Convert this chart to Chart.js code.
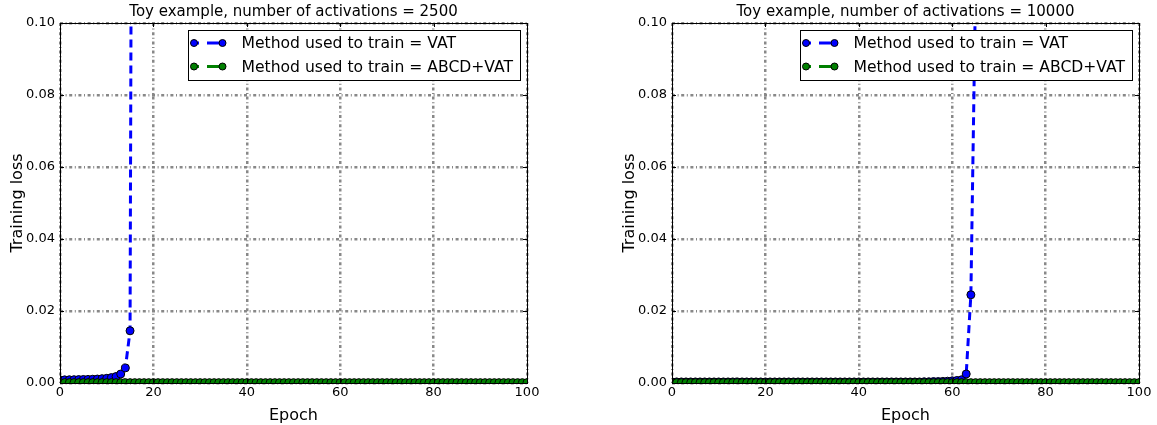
<!DOCTYPE html>
<html><head><meta charset="utf-8">
<script src="https://cdn.jsdelivr.net/npm/chart.js@4.4.0/dist/chart.umd.min.js"></script>
<style>
html,body{margin:0;padding:0;background:#fff;}
#w1{position:absolute;left:0;top:0;width:578px;height:425px;}
#w2{position:absolute;left:612px;top:0;width:545px;height:425px;}
</style></head><body>
<div id="w1"><canvas id="c1"></canvas></div>
<div id="w2"><canvas id="c2"></canvas></div>
<script>
// ---- data ----
const epochs = Array.from({length:101},(_,i)=>i);
const titles = ["Toy example, number of activations = 2500","Toy example, number of activations = 10000"];
const seriesNames = ["Method used to train = VAT","Method used to train = ABCD+VAT"];
const xTicks = [0,20,40,60,80,100];
const yTicks = [0.00,0.02,0.04,0.06,0.08,0.10];
// left panel (2500 activations), VAT diverges after epoch 15
const vat2500 = [0.00085,0.00087,0.0009,0.00092,0.00095,0.00098,0.001,0.00105,0.0011,0.0012,0.0013,0.0015,0.0018,0.0025,0.0042,0.0145,0.44];
const abcd2500 = [0.0001,0.0001,0.0001,0.0001,0.0001,0.0001,0.0001,0.0001,0.0001,0.0001,0.0001,0.0001,0.0001,0.0001,0.0001,0.0001,0.0001,0.0001,0.0001,0.0001,0.0001,0.0001,0.0001,0.0001,0.0001,0.0001,0.0001,0.0001,0.0001,0.0001,0.0001,0.0001,0.0001,0.0001,0.0001,0.0001,0.0001,0.0001,0.0001,0.0001,0.0001,0.0001,0.0001,0.0001,0.0001,0.0001,0.0001,0.0001,0.0001,0.0001,0.0001,0.0001,0.0001,0.0001,0.0001,0.0001,0.0001,0.0001,0.0001,0.0001,0.0001,0.0001,0.0001,0.0001,0.0001,0.0001,0.0001,0.0001,0.0001,0.0001,0.0001,0.0001,0.0001,0.0001,0.0001,0.0001,0.0001,0.0001,0.0001,0.0001,0.0001,0.0001,0.0001,0.0001,0.0001,0.0001,0.0001,0.0001,0.0001,0.0001,0.0001,0.0001,0.0001,0.0001,0.0001,0.0001,0.0001,0.0001,0.0001,0.0001,0.0001];
// right panel (10000 activations), VAT diverges after epoch 64
const vat10000 = [0.0003,0.0003,0.0003,0.0003,0.0003,0.0003,0.0003,0.0003,0.0003,0.0003,0.0003,0.0003,0.0003,0.0003,0.0003,0.0003,0.0003,0.0003,0.0003,0.0003,0.0003,0.0003,0.0003,0.0003,0.0003,0.0003,0.0003,0.0003,0.0003,0.0003,0.0003,0.0003,0.0003,0.0003,0.0003,0.0003,0.0003,0.0003,0.0003,0.0003,0.0003,0.0003,0.0003,0.0003,0.0003,0.0003,0.0003,0.0003,0.0003,0.0003,0.0003,0.0003,0.0003,0.0003,0.00035,0.00035,0.0004,0.0004,0.00045,0.0005,0.0006,0.0007,0.0009,0.0025,0.0245,0.11];
const abcd10000 = [0.0001,0.0001,0.0001,0.0001,0.0001,0.0001,0.0001,0.0001,0.0001,0.0001,0.0001,0.0001,0.0001,0.0001,0.0001,0.0001,0.0001,0.0001,0.0001,0.0001,0.0001,0.0001,0.0001,0.0001,0.0001,0.0001,0.0001,0.0001,0.0001,0.0001,0.0001,0.0001,0.0001,0.0001,0.0001,0.0001,0.0001,0.0001,0.0001,0.0001,0.0001,0.0001,0.0001,0.0001,0.0001,0.0001,0.0001,0.0001,0.0001,0.0001,0.0001,0.0001,0.0001,0.0001,0.0001,0.0001,0.0001,0.0001,0.0001,0.0001,0.0001,0.0001,0.0001,0.0001,0.0001,0.0001,0.0001,0.0001,0.0001,0.0001,0.0001,0.0001,0.0001,0.0001,0.0001,0.0001,0.0001,0.0001,0.0001,0.0001,0.0001,0.0001,0.0001,0.0001,0.0001,0.0001,0.0001,0.0001,0.0001,0.0001,0.0001,0.0001,0.0001,0.0001,0.0001,0.0001,0.0001,0.0001,0.0001,0.0001,0.0001];

const FONT = "'DejaVu Sans', sans-serif";
const GRID_DASH = [3,2.6,1,2.6];

const framePlugin = {
  id:'frame',
  afterDatasetsDraw(chart, args, opts){
    const {ctx, chartArea:a} = chart;
    const xs = chart.scales.x, ys = chart.scales.y;
    ctx.save();
    ctx.strokeStyle = '#000'; ctx.lineWidth = 1;
    ctx.beginPath();
    xTicks.forEach(t=>{const px=Math.round(xs.getPixelForValue(t))+0.5;
      ctx.moveTo(px,a.bottom);ctx.lineTo(px,a.bottom-4);ctx.moveTo(px,a.top);ctx.lineTo(px,a.top+4);});
    yTicks.forEach(t=>{const py=Math.round(ys.getPixelForValue(t))+0.5;
      ctx.moveTo(a.left,py);ctx.lineTo(a.left+4,py);ctx.moveTo(a.right,py);ctx.lineTo(a.right-4,py);});
    ctx.stroke();
    ctx.strokeRect(Math.round(a.left)+0.5, Math.round(a.top)+0.5, Math.round(a.right-a.left), Math.round(a.bottom-a.top));
    // title centred over the plot area
    ctx.fillStyle='#000'; ctx.font='15px '+FONT; ctx.textAlign='center'; ctx.textBaseline='middle';
    ctx.fillText(opts.title, (a.left+a.right)/2, 12);
    // legend
    const bw=332, bh=50;
    const bx=Math.round(a.right)-7-bw+0.5, by=Math.round(a.top)+7+0.5;
    ctx.fillStyle='#fff';
    ctx.fillRect(bx,by,bw,bh);
    ctx.strokeStyle='#000'; ctx.lineWidth=1;
    ctx.strokeRect(bx,by,bw,bh);
    chart.data.datasets.forEach((ds,i)=>{
      const y = by+12.5+i*23.5;
      const x1 = bx+5.5, x2 = bx+34;
      ctx.strokeStyle=ds.borderColor; ctx.lineWidth=3; ctx.setLineDash([5,8,8,0]);
      ctx.beginPath();ctx.moveTo(x1,y);ctx.lineTo(x2,y);ctx.stroke();
      ctx.setLineDash([]);
      [x1,x2].forEach(px=>{ctx.beginPath();ctx.arc(px,y,3.5,0,Math.PI*2);ctx.fillStyle=ds.pointBackgroundColor;ctx.fill();ctx.lineWidth=1;ctx.strokeStyle='#000';ctx.stroke();});
      ctx.fillStyle='#000'; ctx.font='15.6px '+FONT; ctx.textBaseline='middle'; ctx.textAlign='left';
      ctx.fillText(ds.label, bx+53, y+1);
    });
    ctx.restore();
  }
};

function makeChart(id, title, vat, abcd){
  return new Chart(document.getElementById(id), {
    type:'line',
    data:{ labels: epochs, datasets:[
      {label:seriesNames[0], data:vat, order:2, borderColor:'#0000ff', backgroundColor:'#0000ff', borderWidth:3, borderDash:[8,5],
       pointRadius:4, pointBackgroundColor:'#0000ff', pointBorderColor:'#000', pointBorderWidth:1, tension:0, spanGaps:false},
      {label:seriesNames[1], data:abcd, order:1, borderColor:'#008000', backgroundColor:'#008000', borderWidth:3, borderDash:[8,5],
       pointRadius:4, pointBackgroundColor:'#008000', pointBorderColor:'#000', pointBorderWidth:1, tension:0}
    ]},
    options:{
      responsive:true, maintainAspectRatio:false, animation:false,
      layout:{padding:{top:23,right:id==='c1'?51:18,left:0,bottom:0}},
      plugins:{
        legend:{display:false}, tooltip:{enabled:false}, title:{display:false},
        frame:{title:title}
      },
      scales:{
        x:{type:'linear', min:0, max:100,
           afterBuildTicks(s){s.ticks = xTicks.map(v=>({value:v}));},
           afterFit(s){s.height=42;},
           ticks:{color:'#000', font:{family:FONT,size:13}, padding:2, maxRotation:0, callback:v=>String(v)},
           grid:{color:'#888888', lineWidth:2.5, drawTicks:false},
           border:{display:false, dash:GRID_DASH},
           title:{display:true, text:'Epoch', color:'#000', font:{family:FONT,size:16}, padding:{top:2,bottom:0}}},
        y:{type:'linear', min:0, max:0.1,
           afterBuildTicks(s){s.ticks = yTicks.map(v=>({value:v}));},
           afterFit(s){s.width=60;},
           ticks:{color:'#000', font:{family:FONT,size:13}, padding:5, callback:v=>v.toFixed(2)},
           grid:{color:'#888888', lineWidth:2.5, drawTicks:false},
           border:{display:false, dash:GRID_DASH},
           title:{display:true, text:'Training loss', color:'#000', font:{family:FONT,size:16}, padding:{top:8,bottom:0}}}
      }
    },
    plugins:[framePlugin]
  });
}
makeChart('c1', titles[0], vat2500, abcd2500);
makeChart('c2', titles[1], vat10000, abcd10000);
</script>
</body></html>
